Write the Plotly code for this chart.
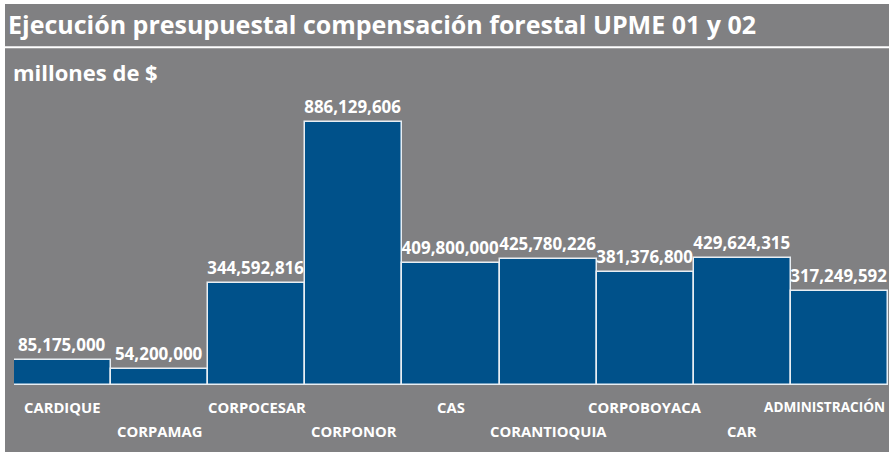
import plotly.graph_objects as go

categories = ["CARDIQUE", "CORPAMAG", "CORPOCESAR", "CORPONOR", "CAS",
              "CORANTIOQUIA", "CORPOBOYACA", "CAR", "ADMINISTRACIÓN"]
values = [85175000, 54200000, 344592816, 886129606, 409800000,
          425780226, 381376800, 429624315, 317249592]

title_text = "Ejecución presupuestal compensación forestal UPME 01 y 02"
subtitle_text = "millones de $"

GRAY = "#808082"
BLUE = "#00518a"
FONT = "Open Sans"

fig = go.Figure()
fig.add_trace(go.Bar(
    x=categories, y=values,
    marker=dict(color=BLUE, line=dict(color="#e8eef3", width=1.5)),
    text=values, texttemplate="%{y:,.0f}", textposition="outside",
    textfont=dict(color="white", size=17, family=FONT, weight=700),
    cliponaxis=False, hoverinfo="skip",
))

annotations = []
n = len(categories)
for i, c in enumerate(categories):
    last = i == n - 1
    annotations.append(dict(
        x=c, y=0, xref="x", yref="y", text=c, showarrow=False,
        yanchor="top", xanchor="right" if last else "center",
        xshift=48 if last else 0,
        yshift=-10 if i % 2 == 0 else -34,
        font=dict(color="white", size=13.6 if last else 14.8,
                  family=FONT, weight=700),
    ))
annotations.append(dict(
    x=0, y=1, xref="paper", yref="paper", text=title_text, showarrow=False,
    xanchor="left", yanchor="middle", xshift=-8, yshift=76,
    font=dict(color="white", size=25, family=FONT, weight=700),
))
annotations.append(dict(
    x=0, y=1, xref="paper", yref="paper", text=subtitle_text, showarrow=False,
    xanchor="left", yanchor="middle", xshift=-3, yshift=28,
    font=dict(color="white", size=22, family=FONT, weight=700),
))

shapes = [
    dict(type="rect", xref="paper", yref="paper", x0=-0.0103, x1=1.01,
         y0=-0.235, y1=1.337, fillcolor=GRAY, line=dict(width=0), layer="below"),
    dict(type="line", xref="paper", yref="paper", x0=-0.0103, x1=1.01,
         y0=1.185, y1=1.185, line=dict(color="white", width=2)),
]

fig.update_layout(
    width=889, height=454, autosize=False,
    margin=dict(l=14, r=1, t=100, b=69),
    paper_bgcolor="white", plot_bgcolor=GRAY,
    bargap=0, showlegend=False,
    xaxis=dict(range=[-0.5, n - 0.5], showticklabels=False,
               showgrid=False, zeroline=False, fixedrange=True),
    yaxis=dict(range=[0, 960.3e6], visible=False, fixedrange=True),
    annotations=annotations, shapes=shapes,
)

fig.write_html(
    "out.html",
    config={"displayModeBar": False},
    post_script="document.body.style.margin='0';document.body.style.padding='0';"
                "document.body.style.overflow='hidden';",
)
